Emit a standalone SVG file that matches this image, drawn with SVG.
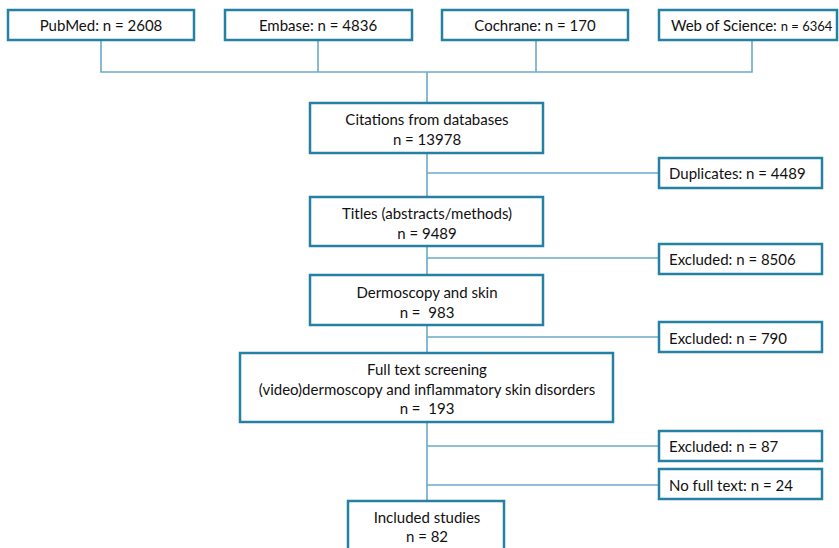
<svg xmlns="http://www.w3.org/2000/svg" width="839" height="548" viewBox="0 0 839 548">
<style>
.box{fill:#fff;stroke:#2581a3;stroke-width:2.5}
.ln{fill:none;stroke:#6aaac6;stroke-width:1.6}
text{font-family:"Lato","Open Sans","Liberation Sans",sans-serif;font-size:15px;fill:#111;white-space:pre}
.c{text-anchor:middle}
</style>
<rect width="839" height="548" fill="#fff"/>
<g id="connectors">
<path class="ln" d="M101,40V72H752V40M318,40V72M536,40V72M427,72V103"/>
<path class="ln" d="M427,153V197M427,173H659"/>
<path class="ln" d="M427,246V275M427,258H659"/>
<path class="ln" d="M427,325V353M427,337H659"/>
<path class="ln" d="M427,422V501M427,446H659M427,485H659"/>
</g>
<g id="pubmed"><rect class="box" x="8" y="10" width="186" height="30"/><text class="c" x="101" y="31">PubMed: n = 2608</text></g>
<g id="embase"><rect class="box" x="225" y="10" width="187" height="30"/><text class="c" x="318" y="31">Embase: n = 4836</text></g>
<g id="cochrane"><rect class="box" x="442" y="10" width="186" height="30"/><text class="c" x="535" y="31">Cochrane: n = 170</text></g>
<g id="wos"><rect class="box" x="659" y="10" width="178" height="30"/><text x="671" y="31">Web of Science: <tspan font-size="13">n = 6364</tspan></text></g>
<g id="citations"><rect class="box" x="310" y="103" width="233" height="50"/><text class="c" x="427" y="125">Citations from databases</text><text class="c" x="427" y="145">n = 13978</text></g>
<g id="duplicates"><rect class="box" x="659" y="158" width="163" height="30"/><text x="669" y="179">Duplicates: n = 4489</text></g>
<g id="titles"><rect class="box" x="310" y="197" width="233" height="49"/><text class="c" x="427" y="219">Titles (abstracts/methods)</text><text class="c" x="427" y="239">n = 9489</text></g>
<g id="excl1"><rect class="box" x="659" y="244" width="163" height="30"/><text x="669" y="265">Excluded: n = 8506</text></g>
<g id="dermoscopy"><rect class="box" x="310" y="275" width="233" height="50"/><text class="c" x="427" y="298">Dermoscopy and skin</text><text class="c" x="427" y="318">n =  983</text></g>
<g id="excl2"><rect class="box" x="659" y="322" width="163" height="30"/><text x="669" y="344">Excluded: n = 790</text></g>
<g id="fulltext"><rect class="box" x="240" y="353" width="373" height="69"/><text class="c" x="427" y="375">Full text screening</text><text class="c" x="427" y="395">(video)dermoscopy and inflammatory skin disorders</text><text class="c" x="427" y="414">n =  193</text></g>
<g id="excl3"><rect class="box" x="659" y="431" width="163" height="30"/><text x="669" y="452">Excluded: n = 87</text></g>
<g id="nofull"><rect class="box" x="659" y="469" width="163" height="30"/><text x="669" y="491">No full text: n = 24</text></g>
<g id="included"><rect class="box" x="348" y="501" width="156" height="52"/><text class="c" x="427" y="523">Included studies</text><text class="c" x="427" y="542">n = 82</text></g>
</svg>
